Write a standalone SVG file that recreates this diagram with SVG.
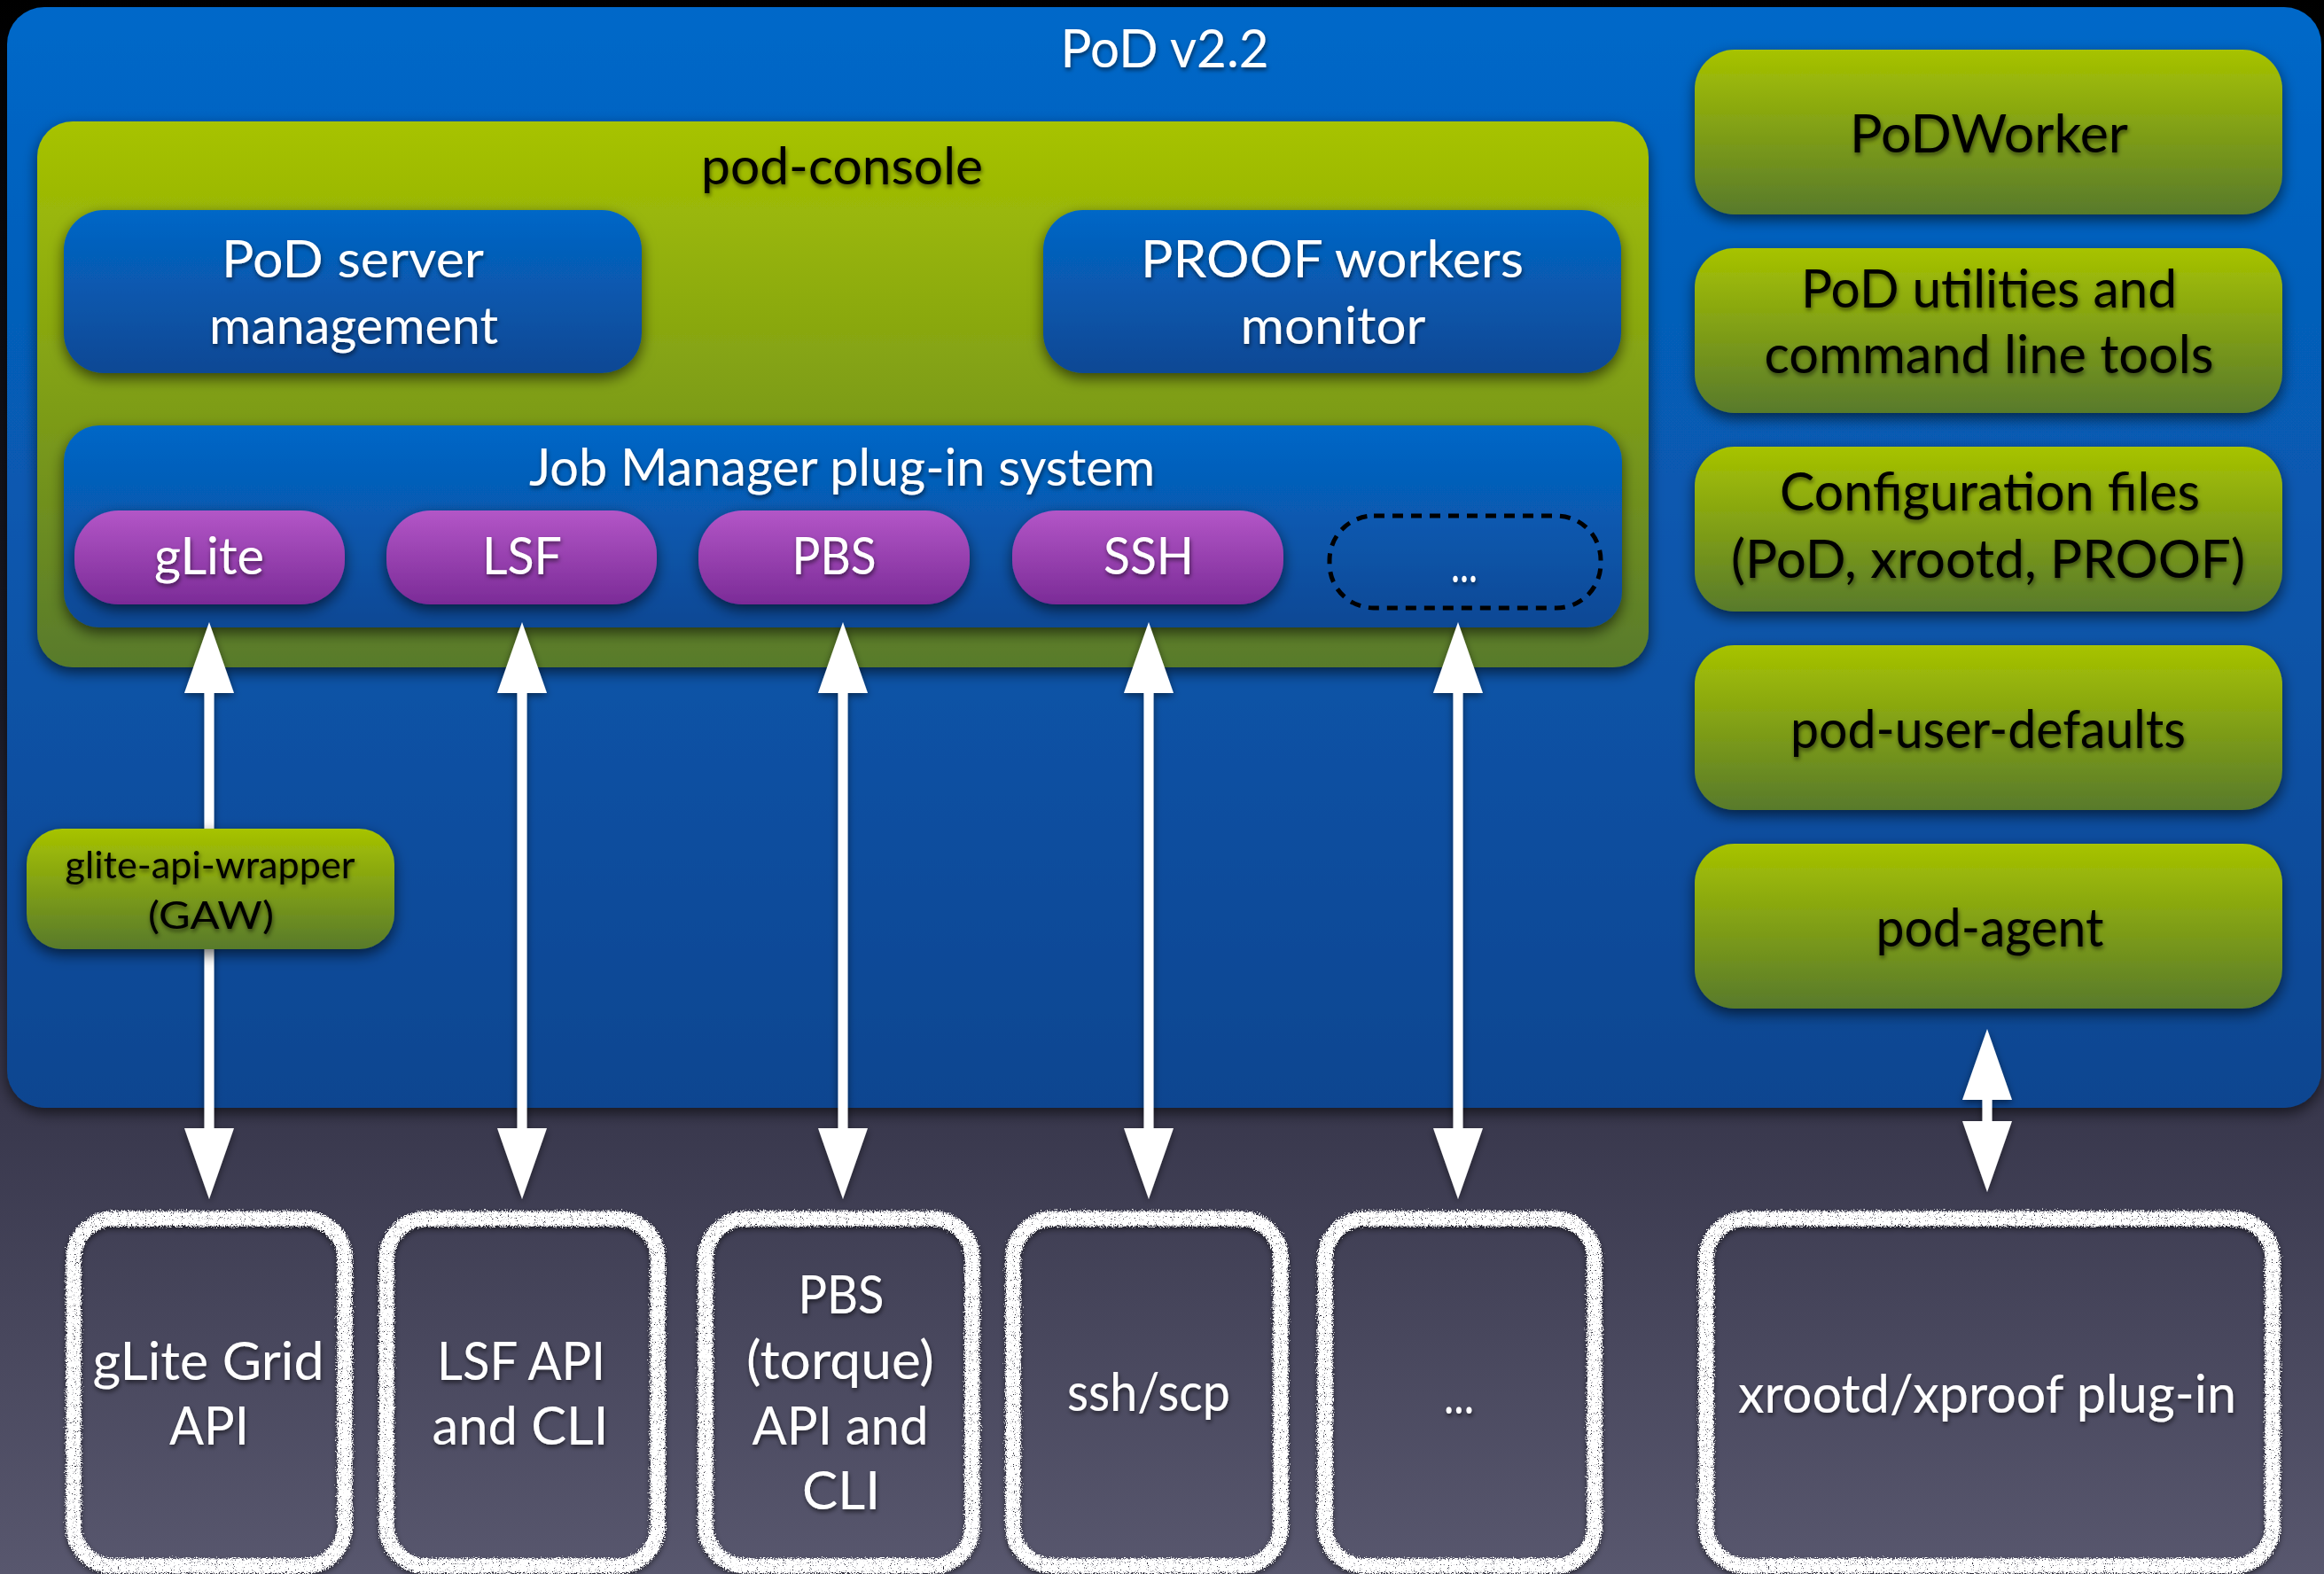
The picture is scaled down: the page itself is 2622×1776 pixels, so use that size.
<svg xmlns="http://www.w3.org/2000/svg" width="2622" height="1776" viewBox="0 0 2622 1776">
<defs>
  <linearGradient id="bg" x1="0" y1="0" x2="0" y2="1">
    <stop offset="0" stop-color="#000000"/>
    <stop offset="0.45" stop-color="#1c1c28"/>
    <stop offset="0.7" stop-color="#38374c"/>
    <stop offset="1" stop-color="#58576e"/>
  </linearGradient>
  <linearGradient id="gBlueOuter" x1="0" y1="0" x2="0" y2="1">
    <stop offset="0" stop-color="#0468c9"/>
    <stop offset="1" stop-color="#0b4590"/>
  </linearGradient>
  <linearGradient id="gBlue" x1="0" y1="0" x2="0" y2="1">
    <stop offset="0" stop-color="#0467c7"/>
    <stop offset="1" stop-color="#0b4894"/>
  </linearGradient>
  <linearGradient id="gGreen" x1="0" y1="0" x2="0" y2="1">
    <stop offset="0" stop-color="#a7c300"/>
    <stop offset="1" stop-color="#587a2c"/>
  </linearGradient>
  <linearGradient id="gPurple" x1="0" y1="0" x2="0" y2="1">
    <stop offset="0" stop-color="#b356c7"/>
    <stop offset="1" stop-color="#7b2b97"/>
  </linearGradient>
  <filter id="shadow" x="-10%" y="-10%" width="120%" height="130%">
    <feDropShadow dx="0" dy="6" stdDeviation="8" flood-color="#000" flood-opacity="0.6"/>
  </filter>
  <filter id="tshadow" x="-10%" y="-30%" width="120%" height="160%">
    <feDropShadow dx="1" dy="3" stdDeviation="2.5" flood-color="#000" flood-opacity="0.55"/>
  </filter>
  <filter id="ashadow" filterUnits="userSpaceOnUse" x="0" y="0" width="2622" height="1776">
    <feDropShadow dx="0" dy="3" stdDeviation="4" flood-color="#000" flood-opacity="0.5"/>
  </filter>
  <filter id="chalk" x="-10%" y="-10%" width="120%" height="120%">
    <feTurbulence type="fractalNoise" baseFrequency="0.7" numOctaves="2" seed="3" result="n"/>
    <feDisplacementMap in="SourceGraphic" in2="n" scale="9" xChannelSelector="R" yChannelSelector="G" result="d"/>
    <feTurbulence type="fractalNoise" baseFrequency="1.1" numOctaves="1" seed="9" result="n2"/>
    <feColorMatrix in="n2" type="matrix" values="0 0 0 0 1  0 0 0 0 1  0 0 0 0 1  9 0 0 0 -2.4" result="mask"/>
    <feComposite in="d" in2="mask" operator="in" result="c"/>
    <feGaussianBlur in="c" stdDeviation="3" result="b"/>
    <feColorMatrix in="b" type="matrix" values="0 0 0 0 0  0 0 0 0 0  0 0 0 0 0  0 0 0 0.6 0" result="sh"/>
    <feOffset in="sh" dx="0" dy="3" result="sho"/>
    <feMerge><feMergeNode in="sho"/><feMergeNode in="c"/></feMerge>
  </filter>
  <marker id="ah" viewBox="0 0 80 56" refX="0" refY="28" markerWidth="80" markerHeight="56" markerUnits="userSpaceOnUse" orient="auto-start-reverse">
    <path d="M0,0 L80,28 L0,56 z" fill="#ffffff"/>
  </marker>
</defs>
<style>
  .t { font-family: Lato, "Open Sans", "DejaVu Sans", sans-serif; text-anchor: middle; filter: url(#tshadow); }
  .w { fill: #ffffff; }
  .k { fill: #000000; }
  .s58 { font-size: 58px; }
  .s60 { font-size: 60px; }
  .s43 { font-size: 43px; }
  .blue { fill: url(#gBlue); filter: url(#shadow); }
  .green { fill: url(#gGreen); filter: url(#shadow); }
  .purple { fill: url(#gPurple); filter: url(#shadow); }
  .chalk { fill: none; stroke: #ffffff; stroke-width: 17; filter: url(#chalk); }
  .conn { stroke: #ffffff; stroke-width: 11; fill: none; marker-start: url(#ah); marker-end: url(#ah); }
</style>

<rect x="0" y="0" width="2622" height="1776" fill="url(#bg)"/>

<g id="pod">
  <rect x="8" y="8" width="2611" height="1242" rx="42" fill="url(#gBlueOuter)" filter="url(#shadow)"/>
  <text class="t w s60" x="1314" y="76" textLength="235" lengthAdjust="spacingAndGlyphs">PoD v2.2</text>
</g>

<g id="pod-console">
  <rect class="green" x="42" y="137" width="1818" height="616" rx="40"/>
  <text class="t k s58" x="950" y="208" textLength="318" lengthAdjust="spacingAndGlyphs">pod-console</text>
</g>

<g id="pod-server-management">
  <rect class="blue" x="72" y="237" width="652" height="184" rx="45"/>
  <text class="t w s58" x="398" y="313" textLength="296" lengthAdjust="spacingAndGlyphs">PoD server</text>
  <text class="t w s58" x="399" y="388" textLength="326" lengthAdjust="spacingAndGlyphs">management</text>
</g>

<g id="proof-workers-monitor">
  <rect class="blue" x="1177" y="237" width="652" height="184" rx="45"/>
  <text class="t w s58" x="1503" y="313" textLength="432" lengthAdjust="spacingAndGlyphs">PROOF workers</text>
  <text class="t w s58" x="1504" y="388" textLength="209" lengthAdjust="spacingAndGlyphs">monitor</text>
</g>

<g id="job-manager">
  <rect class="blue" x="72" y="480" width="1758" height="228" rx="40"/>
  <text class="t w s58" x="950" y="548" textLength="706" lengthAdjust="spacingAndGlyphs">Job Manager plug-in system</text>
</g>

<g id="plugin-glite">
  <rect class="purple" x="84" y="576" width="305" height="106" rx="50"/>
  <text class="t w s58" x="236" y="648" textLength="124" lengthAdjust="spacingAndGlyphs">gLite</text>
</g>
<g id="plugin-lsf">
  <rect class="purple" x="436" y="576" width="305" height="106" rx="50"/>
  <text class="t w s58" x="589" y="648" textLength="90" lengthAdjust="spacingAndGlyphs">LSF</text>
</g>
<g id="plugin-pbs">
  <rect class="purple" x="788" y="576" width="306" height="106" rx="50"/>
  <text class="t w s58" x="941" y="648" textLength="95" lengthAdjust="spacingAndGlyphs">PBS</text>
</g>
<g id="plugin-ssh">
  <rect class="purple" x="1142" y="576" width="306" height="106" rx="50"/>
  <text class="t w s58" x="1296" y="648" textLength="102" lengthAdjust="spacingAndGlyphs">SSH</text>
</g>
<g id="plugin-more">
  <rect x="1500" y="582" width="306" height="104" rx="50" fill="none" stroke="#000" stroke-width="5" stroke-dasharray="12 9"/>
  <text class="t w s58" x="1652" y="657" textLength="30" lengthAdjust="spacingAndGlyphs">...</text>
</g>

<g id="podworker">
  <rect class="green" x="1912" y="56" width="663" height="186" rx="45"/>
  <text class="t k s60" x="2244" y="172" textLength="314" lengthAdjust="spacingAndGlyphs">PoDWorker</text>
</g>
<g id="pod-utilities">
  <rect class="green" x="1912" y="280" width="663" height="186" rx="45"/>
  <text class="t k s60" x="2244" y="347" textLength="424" lengthAdjust="spacingAndGlyphs">PoD utilities and</text>
  <text class="t k s60" x="2244" y="421" textLength="507" lengthAdjust="spacingAndGlyphs">command line tools</text>
</g>
<g id="configuration-files">
  <rect class="green" x="1912" y="504" width="663" height="186" rx="45"/>
  <text class="t k s60" x="2245" y="576" textLength="474" lengthAdjust="spacingAndGlyphs">Configuration files</text>
  <text class="t k s60" x="2243" y="652" textLength="580" lengthAdjust="spacingAndGlyphs">(PoD, xrootd, PROOF)</text>
</g>
<g id="pod-user-defaults">
  <rect class="green" x="1912" y="728" width="663" height="186" rx="45"/>
  <text class="t k s60" x="2243" y="844" textLength="446" lengthAdjust="spacingAndGlyphs">pod-user-defaults</text>
</g>
<g id="pod-agent">
  <rect class="green" x="1912" y="952" width="663" height="186" rx="45"/>
  <text class="t k s60" x="2245" y="1068" textLength="257" lengthAdjust="spacingAndGlyphs">pod-agent</text>
</g>

<g id="connectors" filter="url(#ashadow)">
  <line class="conn" x1="236" y1="782" x2="236" y2="1273"/>
  <line class="conn" x1="589" y1="782" x2="589" y2="1273"/>
  <line class="conn" x1="951" y1="782" x2="951" y2="1273"/>
  <line class="conn" x1="1296" y1="782" x2="1296" y2="1273"/>
  <line class="conn" x1="1645" y1="782" x2="1645" y2="1273"/>
  <line class="conn" x1="2242" y1="1241" x2="2242" y2="1265"/>
</g>

<g id="gaw">
  <rect class="green" x="30" y="935" width="415" height="136" rx="40"/>
  <text class="t k s43" x="237" y="991" textLength="327" lengthAdjust="spacingAndGlyphs">glite-api-wrapper</text>
  <text class="t k s43" x="238" y="1048" textLength="142" lengthAdjust="spacingAndGlyphs">(GAW)</text>
</g>

<g id="glite-grid-api">
  <rect class="chalk" x="83" y="1375" width="306" height="392" rx="45"/>
  <text class="t w s60" x="235" y="1557" textLength="261" lengthAdjust="spacingAndGlyphs">gLite Grid</text>
  <text class="t w s60" x="236" y="1630" textLength="90" lengthAdjust="spacingAndGlyphs">API</text>
</g>
<g id="lsf-api">
  <rect class="chalk" x="436" y="1375" width="306" height="392" rx="45"/>
  <text class="t w s60" x="588" y="1557" textLength="190" lengthAdjust="spacingAndGlyphs">LSF API</text>
  <text class="t w s60" x="587" y="1630" textLength="199" lengthAdjust="spacingAndGlyphs">and CLI</text>
</g>
<g id="pbs-api">
  <rect class="chalk" x="796" y="1375" width="301" height="392" rx="45"/>
  <text class="t w s60" x="949" y="1482" textLength="97" lengthAdjust="spacingAndGlyphs">PBS</text>
  <text class="t w s60" x="948" y="1556" textLength="212" lengthAdjust="spacingAndGlyphs">(torque)</text>
  <text class="t w s60" x="948" y="1630" textLength="199" lengthAdjust="spacingAndGlyphs">API and</text>
  <text class="t w s60" x="949" y="1703" textLength="88" lengthAdjust="spacingAndGlyphs">CLI</text>
</g>
<g id="ssh-scp">
  <rect class="chalk" x="1143" y="1375" width="302" height="392" rx="45"/>
  <text class="t w s60" x="1296" y="1592" textLength="184" lengthAdjust="spacingAndGlyphs">ssh/scp</text>
</g>
<g id="other-backend">
  <rect class="chalk" x="1495" y="1375" width="304" height="392" rx="45"/>
  <text class="t w s60" x="1646" y="1595" textLength="34" lengthAdjust="spacingAndGlyphs">...</text>
</g>
<g id="xrootd-plugin">
  <rect class="chalk" x="1925" y="1375" width="639" height="392" rx="45"/>
  <text class="t w s60" x="2242" y="1594" textLength="562" lengthAdjust="spacingAndGlyphs">xrootd/xproof plug-in</text>
</g>
</svg>
